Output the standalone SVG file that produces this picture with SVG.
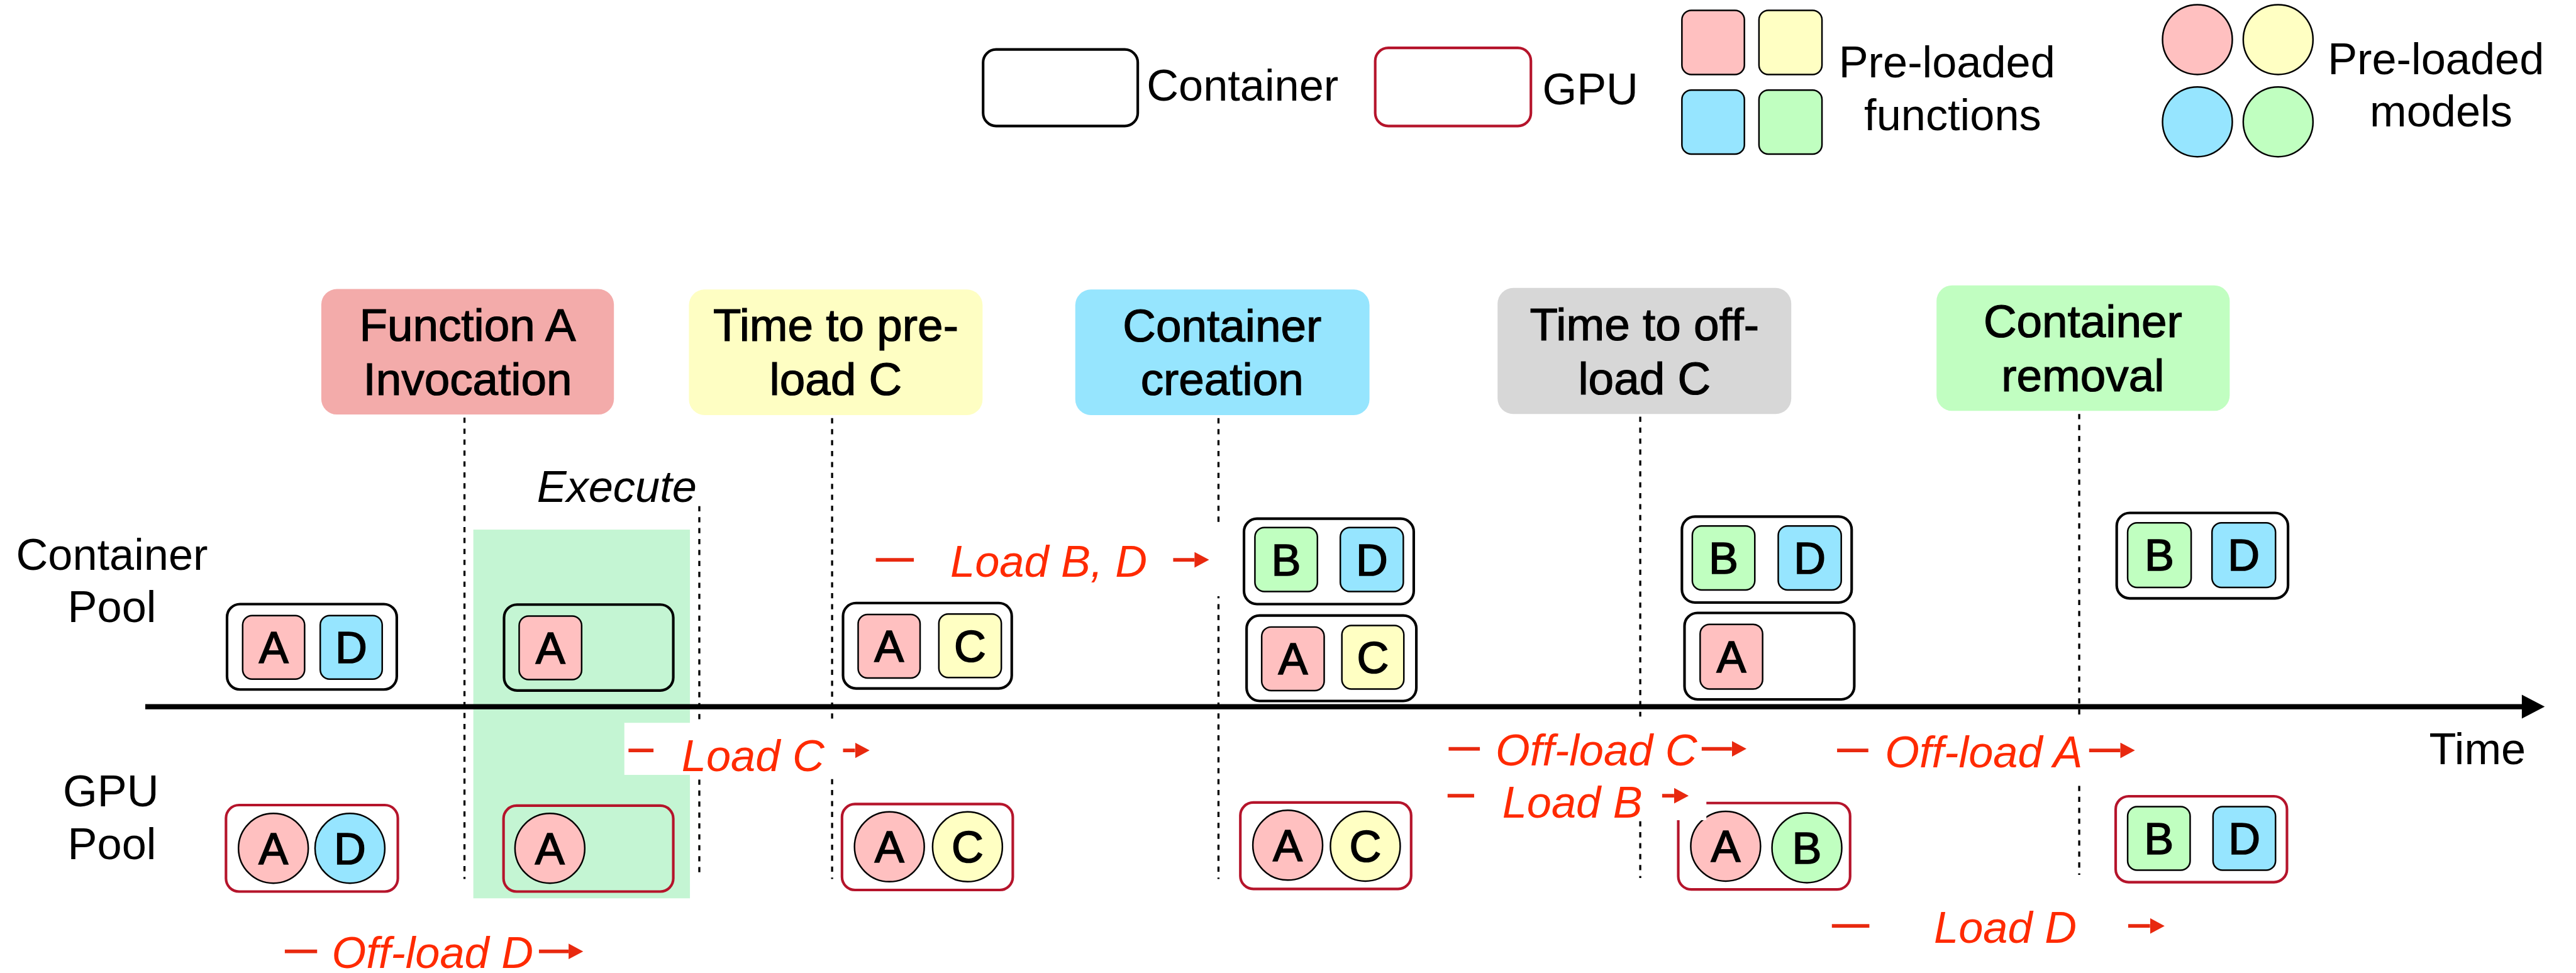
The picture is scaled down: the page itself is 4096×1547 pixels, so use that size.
<svg xmlns="http://www.w3.org/2000/svg" width="4096" height="1547" viewBox="0 0 4096 1547">
  <defs>
    <style>
      text { font-family: "Liberation Sans", Arial, Helvetica, sans-serif; fill: #000; }
      .t85 { font-size: 85px; }
      .hdr { font-size: 88px; text-anchor: middle; stroke: #000; stroke-width: 1.5; }
      .mid { text-anchor: middle; }
      .lbl { font-size: 85px; font-style: italic; fill: #ff2a00; }
      .cont { fill: none; stroke: #000; stroke-width: 5; }
      .gpu { fill: none; stroke: #b5142b; stroke-width: 5; }
      .sq { stroke: #000; stroke-width: 3; }
      .ci { stroke: #000; stroke-width: 3; }
      .pA { fill: #ffc0c0; }
      .pB { fill: #c0ffc0; }
      .pC { fill: #ffffc3; }
      .pD { fill: #96e5ff; }
      .let { font-size: 85px; text-anchor: middle; stroke: #000; stroke-width: 2; }
      .vdash { stroke: #000; stroke-width: 4; stroke-dasharray: 10 11; fill: none; }
      .rdash { stroke: #e8290f; stroke-width: 7; }
      .rarrow { stroke: #e8290f; stroke-width: 7; marker-end: url(#rhead); }
      .bg { fill: #fff; }
    </style>
    <marker id="rhead" markerUnits="userSpaceOnUse" markerWidth="30" markerHeight="32" refX="0" refY="15" orient="auto">
      <path d="M0,0 L28,15 L0,30 Z" fill="#e8290f"/>
    </marker>
  </defs>

  <rect x="0" y="0" width="4096" height="1547" fill="#fff"/>

  <g transform="scale(0.82797)">

    <!-- legend -->
    <g id="legend">
      <rect x="1888" y="95" width="297" height="147" rx="25" class="cont"/>
      <text x="2202" y="193" class="t85">Container</text>
      <rect x="2641" y="92" width="299" height="150" rx="25" class="gpu"/>
      <text x="2962" y="200" class="t85">GPU</text>

      <rect x="3230" y="20" width="120" height="123" rx="18" class="sq pA"/>
      <rect x="3378" y="20" width="121" height="123" rx="18" class="sq pC"/>
      <rect x="3230" y="173" width="120" height="123" rx="18" class="sq pD"/>
      <rect x="3378" y="173" width="121" height="123" rx="18" class="sq pB"/>
      <text x="3739" y="148" class="t85 mid">Pre-loaded</text>
      <text x="3750" y="250" class="t85 mid">functions</text>

      <circle cx="4220" cy="76" r="67" class="ci pA"/>
      <circle cx="4375" cy="76" r="67" class="ci pC"/>
      <circle cx="4220" cy="234" r="67" class="ci pD"/>
      <circle cx="4375" cy="234" r="67" class="ci pB"/>
      <text x="4678" y="142" class="t85 mid">Pre-loaded</text>
      <text x="4688" y="243" class="t85 mid">models</text>
    </g>

    <!-- event headers -->
    <g id="hdr-invocation">
      <rect x="617" y="555" width="562" height="241" rx="30" fill="#f3abaa"/>
      <text x="898" y="655" class="hdr">Function A</text>
      <text x="898" y="759" class="hdr">Invocation</text>
    </g>
    <g id="hdr-preload">
      <rect x="1323" y="556" width="564" height="241" rx="30" fill="#fefec3"/>
      <text x="1605" y="655" class="hdr">Time to pre-</text>
      <text x="1605" y="759" class="hdr">load C</text>
    </g>
    <g id="hdr-creation">
      <rect x="2065" y="556" width="565" height="241" rx="30" fill="#96e5fe"/>
      <text x="2347" y="656" class="hdr">Container</text>
      <text x="2347" y="759" class="hdr">creation</text>
    </g>
    <g id="hdr-offload">
      <rect x="2876" y="553" width="564" height="242" rx="30" fill="#d7d7d7"/>
      <text x="3158" y="653" class="hdr">Time to off-</text>
      <text x="3158" y="757" class="hdr">load C</text>
    </g>
    <g id="hdr-removal">
      <rect x="3719" y="548" width="563" height="241" rx="30" fill="#c1fec1"/>
      <text x="4000" y="647" class="hdr">Container</text>
      <text x="4000" y="751" class="hdr">removal</text>
    </g>

    <!-- execution window -->
    <g id="execute">
      <rect x="909" y="1017" width="416" height="708" fill="#c4f5d3"/>
      <text x="1031" y="964" class="t85" font-style="italic">Execute</text>
    </g>

    <!-- pool labels -->
    <g id="pool-labels">
      <text x="215" y="1094" class="t85 mid">Container</text>
      <text x="215" y="1195" class="t85 mid">Pool</text>
      <text x="213" y="1548" class="t85 mid">GPU</text>
      <text x="215" y="1650" class="t85 mid">Pool</text>
      <text x="4665" y="1468" class="t85">Time</text>
    </g>

    <!-- timeline and event markers -->
    <g id="connectors">
      <line x1="892" y1="802" x2="892" y2="1688" class="vdash"/>
      <line x1="1343" y1="972" x2="1343" y2="1677" class="vdash"/>
      <line x1="1598" y1="803" x2="1598" y2="1688" class="vdash"/>
      <line x1="2340" y1="803" x2="2340" y2="1688" class="vdash"/>
      <line x1="3150" y1="800" x2="3150" y2="1686" class="vdash"/>
      <line x1="3993" y1="795" x2="3993" y2="1680" class="vdash"/>
      <line x1="279" y1="1357" x2="4845" y2="1357" stroke="#000" stroke-width="10"/>
      <polygon points="4843,1334 4887,1357 4843,1380" fill="#000"/>
    </g>

    <!-- container pool -->
    <g id="cp-1">
      <rect x="436" y="1160" width="326" height="164" rx="25" class="cont"/>
      <rect x="466" y="1182" width="119" height="122" rx="18" class="sq pA"/>
      <text x="525.5" y="1273" class="let">A</text>
      <rect x="615" y="1182" width="119" height="122" rx="18" class="sq pD"/>
      <text x="674.5" y="1273" class="let">D</text>
    </g>
    <g id="cp-2">
      <rect x="968" y="1161" width="325" height="165" rx="25" class="cont"/>
      <rect x="997" y="1183" width="120" height="122" rx="18" class="sq pA"/>
      <text x="1057" y="1274" class="let">A</text>
    </g>
    <g id="cp-3">
      <rect x="1619" y="1158" width="324" height="164" rx="25" class="cont"/>
      <rect x="1648" y="1180" width="119" height="122" rx="18" class="sq pA"/>
      <text x="1707.5" y="1271" class="let">A</text>
      <rect x="1803" y="1179" width="120" height="122" rx="18" class="sq pC"/>
      <text x="1863" y="1270" class="let">C</text>
    </g>
    <g id="cp-4a">
      <rect x="2389" y="996" width="326" height="164" rx="25" class="cont"/>
      <rect x="2410" y="1013" width="120" height="123" rx="18" class="sq pB"/>
      <text x="2470" y="1105" class="let">B</text>
      <rect x="2574" y="1013" width="121" height="123" rx="18" class="sq pD"/>
      <text x="2634.5" y="1105" class="let">D</text>
    </g>
    <g id="cp-4b">
      <rect x="2394" y="1182" width="326" height="164" rx="25" class="cont"/>
      <rect x="2423" y="1204" width="120" height="122" rx="18" class="sq pA"/>
      <text x="2483" y="1295" class="let">A</text>
      <rect x="2577" y="1201" width="119" height="122" rx="18" class="sq pC"/>
      <text x="2636.5" y="1292" class="let">C</text>
    </g>
    <g id="cp-5a">
      <rect x="3230" y="992" width="326" height="165" rx="25" class="cont"/>
      <rect x="3250" y="1010" width="120" height="123" rx="18" class="sq pB"/>
      <text x="3310" y="1102" class="let">B</text>
      <rect x="3415" y="1010" width="121" height="123" rx="18" class="sq pD"/>
      <text x="3475.5" y="1102" class="let">D</text>
    </g>
    <g id="cp-5b">
      <rect x="3235" y="1177" width="326" height="166" rx="25" class="cont"/>
      <rect x="3265" y="1199" width="120" height="124" rx="18" class="sq pA"/>
      <text x="3325" y="1291" class="let">A</text>
    </g>
    <g id="cp-6">
      <rect x="4065" y="985" width="329" height="164" rx="25" class="cont"/>
      <rect x="4086" y="1004" width="122" height="124" rx="18" class="sq pB"/>
      <text x="4147" y="1096" class="let">B</text>
      <rect x="4248" y="1004" width="122" height="124" rx="18" class="sq pD"/>
      <text x="4309" y="1096" class="let">D</text>
    </g>

    <!-- GPU pool -->
    <g id="gp-1">
      <rect x="434" y="1546" width="330" height="166" rx="25" class="gpu"/>
      <circle cx="525" cy="1629" r="67" class="ci pA"/>
      <text x="525" y="1659" class="let">A</text>
      <circle cx="672" cy="1629" r="67" class="ci pD"/>
      <text x="672" y="1659" class="let">D</text>
    </g>
    <g id="gp-2">
      <rect x="967" y="1547" width="326" height="165" rx="25" class="gpu"/>
      <circle cx="1056" cy="1629" r="67" class="ci pA"/>
      <text x="1056" y="1659" class="let">A</text>
    </g>
    <g id="gp-3">
      <rect x="1617" y="1544" width="328" height="165" rx="25" class="gpu"/>
      <circle cx="1708" cy="1626" r="67" class="ci pA"/>
      <text x="1708" y="1656" class="let">A</text>
      <circle cx="1858" cy="1626" r="67" class="ci pC"/>
      <text x="1858" y="1656" class="let">C</text>
    </g>
    <g id="gp-4">
      <rect x="2382" y="1541" width="328" height="166" rx="25" class="gpu"/>
      <circle cx="2473" cy="1623" r="67" class="ci pA"/>
      <text x="2473" y="1653" class="let">A</text>
      <circle cx="2622" cy="1625" r="67" class="ci pC"/>
      <text x="2622" y="1655" class="let">C</text>
    </g>
    <g id="gp-5">
      <rect x="3223" y="1542" width="330" height="166" rx="25" class="gpu"/>
      <circle cx="3314" cy="1625" r="67" class="ci pA"/>
      <text x="3314" y="1655" class="let">A</text>
      <circle cx="3470" cy="1628" r="67" class="ci pB"/>
      <text x="3470" y="1658" class="let">B</text>
    </g>
    <g id="gp-6">
      <rect x="4063" y="1529" width="329" height="165" rx="25" class="gpu"/>
      <rect x="4086" y="1549" width="120" height="122" rx="18" class="sq pB"/>
      <text x="4146" y="1640" class="let">B</text>
      <rect x="4250" y="1549" width="120" height="122" rx="18" class="sq pD"/>
      <text x="4310" y="1640" class="let">D</text>
    </g>

    <!-- load / off-load annotations -->
    <g id="lbl-load-bd">
      <rect x="1670" y="1003" width="680" height="142" class="bg"/>
      <line x1="1682" y1="1075" x2="1755" y2="1075" class="rdash"/>
      <text x="1825" y="1107" class="lbl">Load B, D</text>
      <line x1="2253" y1="1075" x2="2294" y2="1075" class="rarrow"/>
    </g>
    <g id="lbl-load-c">
      <rect x="1199" y="1388" width="480" height="100" class="bg"/>
      <line x1="1207" y1="1441" x2="1255" y2="1441" class="rdash"/>
      <text x="1309" y="1481" class="lbl">Load C</text>
      <line x1="1619" y1="1441" x2="1642" y2="1441" class="rarrow"/>
    </g>
    <g id="lbl-offload-d">
      <line x1="547" y1="1827" x2="609" y2="1827" class="rdash"/>
      <text x="637" y="1859" class="lbl">Off-load D</text>
      <line x1="1035" y1="1827" x2="1092" y2="1827" class="rarrow"/>
    </g>
    <g id="lbl-offload-c">
      <rect x="2770" y="1376" width="590" height="114" class="bg"/>
      <line x1="2782" y1="1438" x2="2842" y2="1438" class="rdash"/>
      <text x="2872" y="1470" class="lbl">Off-load C</text>
      <line x1="3268" y1="1438" x2="3326" y2="1438" class="rarrow"/>
    </g>
    <g id="lbl-load-b">
      <rect x="2770" y="1490" width="507" height="85" class="bg"/>
      <line x1="2780" y1="1528" x2="2831" y2="1528" class="rdash"/>
      <text x="2885" y="1570" class="lbl">Load B</text>
      <line x1="3192" y1="1528" x2="3215" y2="1528" class="rarrow"/>
    </g>
    <g id="lbl-offload-a">
      <rect x="3520" y="1380" width="590" height="119" class="bg"/>
      <line x1="3528" y1="1441" x2="3588" y2="1441" class="rdash"/>
      <text x="3620" y="1473" class="lbl">Off-load A</text>
      <line x1="4012" y1="1441" x2="4072" y2="1441" class="rarrow"/>
    </g>
    <g id="lbl-load-d">
      <line x1="3518" y1="1778" x2="3590" y2="1778" class="rdash"/>
      <text x="3714" y="1811" class="lbl">Load D</text>
      <line x1="4087" y1="1778" x2="4129" y2="1778" class="rarrow"/>
    </g>
  </g>
</svg>
